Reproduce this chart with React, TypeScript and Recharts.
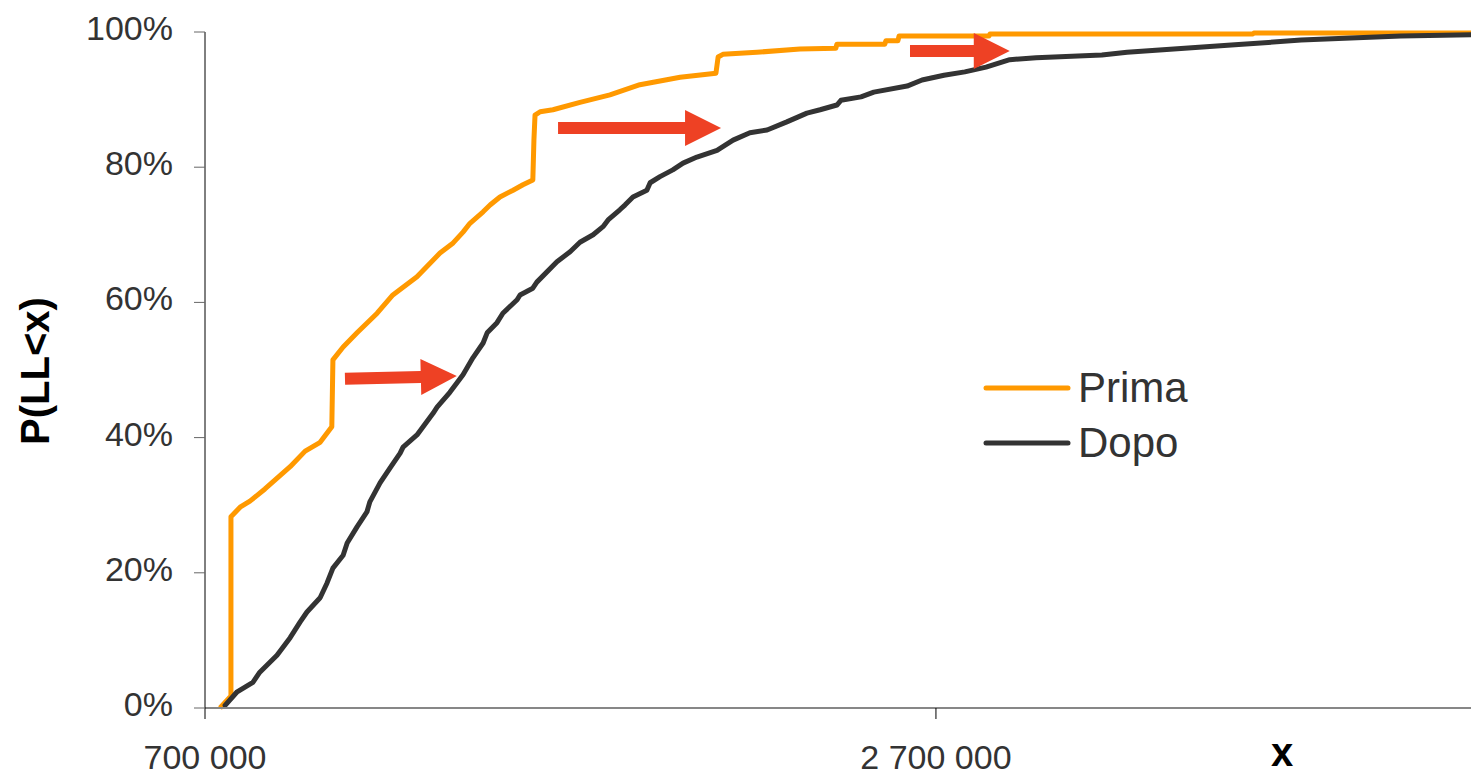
import React from 'react';
import { LineChart, Line, XAxis, YAxis, Legend, ReferenceLine } from 'recharts';

// [x, P(LL<x) in %]
const primaPoints = [
  [741000, 0], [768000, 1.6], [771000, 1.6], [771000, 28.3], [796000, 29.7], [823000, 30.6],
  [864000, 32.4], [933000, 35.7], [974000, 38.0], [1015000, 39.3], [1047000, 41.6], [1050000, 51.5],
  [1078000, 53.4], [1116000, 55.5], [1171000, 58.4], [1214000, 61.1], [1280000, 63.8], [1343000, 67.3],
  [1379000, 68.8], [1406000, 70.4], [1425000, 71.7], [1461000, 73.4], [1480000, 74.4], [1507000, 75.6],
  [1543000, 76.6], [1570000, 77.4], [1597000, 78.1], [1600000, 84.0], [1603000, 87.7], [1617000, 88.2],
  [1652000, 88.5], [1726000, 89.6], [1808000, 90.7], [1890000, 92.2], [2000000, 93.3], [2098000, 93.9],
  [2104000, 96.3], [2117000, 96.7], [2210000, 97.0], [2328000, 97.5], [2426000, 97.6], [2429000, 98.2],
  [2560000, 98.2], [2563000, 98.7], [2596000, 98.7], [2599000, 99.4], [2845000, 99.4], [2848000, 99.7],
  [3567000, 99.7], [3570000, 99.85], [4164000, 99.85],
];

const dopoPoints = [
  [755000, 0.4], [788000, 2.4], [831000, 3.8], [850000, 5.3], [897000, 7.8], [933000, 10.4],
  [960000, 12.7], [979000, 14.2], [1015000, 16.3], [1034000, 18.5], [1050000, 20.7], [1078000, 22.6],
  [1089000, 24.4], [1116000, 26.8], [1143000, 29.0], [1151000, 30.5], [1179000, 33.3], [1206000, 35.5],
  [1234000, 37.7], [1242000, 38.6], [1280000, 40.4], [1324000, 43.6], [1335000, 44.5], [1370000, 46.7],
  [1406000, 49.3], [1433000, 51.8], [1461000, 54.0], [1472000, 55.5], [1499000, 57.0], [1515000, 58.4],
  [1554000, 60.4], [1562000, 61.1], [1597000, 62.1], [1608000, 63.0], [1663000, 66.0], [1699000, 67.5],
  [1726000, 68.9], [1762000, 70.0], [1789000, 71.2], [1803000, 72.2], [1835000, 73.7], [1849000, 74.4],
  [1871000, 75.6], [1909000, 76.6], [1918000, 77.7], [1945000, 78.6], [1980000, 79.6], [2008000, 80.6],
  [2046000, 81.5], [2101000, 82.5], [2145000, 84.0], [2191000, 85.1], [2238000, 85.5], [2292000, 86.7],
  [2347000, 88.0], [2383000, 88.5], [2429000, 89.2], [2440000, 89.9], [2495000, 90.4], [2530000, 91.1],
  [2621000, 92.0], [2662000, 92.9], [2722000, 93.6], [2779000, 94.1], [2837000, 94.8], [2902000, 95.9],
  [2974000, 96.2], [3154000, 96.6], [3223000, 97.0], [3518000, 98.1], [3699000, 98.8], [3972000, 99.4],
  [4164000, 99.6],
];

// arrows: from [x, y] to [x, y]
const arrows = [
  [[1083000, 48.7], [1389000, 49.1]],
  [[1666000, 85.8], [2112000, 85.8]],
  [[2629000, 97.2], [2902000, 97.2]],
];

const xTicks = [700000, 2700000];
const yTicks = [0, 20, 40, 60, 80, 100];
const xDomain = [700000, 4164000];

const seriesNames = ['Prima', 'Dopo'];
const seriesColors = ['#FF9900', '#333333'];

const FONT = '"Liberation Sans", Arial, sans-serif';

const toRows = (pts: number[][]) => pts.map(([x, y]) => ({ x, y }));
const fmtX = (v: number) => String(v).replace(/\B(?=(\d{3})+(?!\d))/g, ' ');

const XTick = (props: any) => {
  const { x, y, payload } = props;
  return (
    <text x={x} y={y + 22} textAnchor="middle" fontSize={34} fontFamily={FONT} fill="#333">
      {fmtX(payload.value)}
    </text>
  );
};

const YTick = (props: any) => {
  const { x, y, payload } = props;
  return (
    <text x={x} y={y + 8} textAnchor="end" fontSize={34} fontFamily={FONT} fill="#333">
      {payload.value + '%'}
    </text>
  );
};

const Arrow = (props: any) => {
  const { x1, y1, x2, y2 } = props;
  if ([x1, y1, x2, y2].some((v) => typeof v !== 'number' || isNaN(v))) return null;
  const dx = x2 - x1;
  const dy = y2 - y1;
  const len = Math.hypot(dx, dy) || 1;
  const ux = dx / len, uy = dy / len;
  const nx = -uy, ny = ux;
  const head = 36, halfHead = 18, halfShaft = 6;
  const bx = x2 - ux * head, by = y2 - uy * head;
  const pts = [
    [x1 + nx * halfShaft, y1 + ny * halfShaft],
    [bx + nx * halfShaft, by + ny * halfShaft],
    [bx + nx * halfHead, by + ny * halfHead],
    [x2, y2],
    [bx - nx * halfHead, by - ny * halfHead],
    [bx - nx * halfShaft, by - ny * halfShaft],
    [x1 - nx * halfShaft, y1 - ny * halfShaft],
  ];
  return <polygon points={pts.map((p) => p.join(',')).join(' ')} fill="#EE4124" />;
};

const LegendBox = () => (
  <svg width={260} height={120}>
    {seriesNames.map((name, i) => (
      <g key={name}>
        <line x1={26} x2={108} y1={38 + i * 55} y2={38 + i * 55} stroke={seriesColors[i]} strokeWidth={5} strokeLinecap="round" />
        <text x={118} y={52 + i * 55} fontSize={42} fontFamily={FONT} fill="#333">{name}</text>
      </g>
    ))}
  </svg>
);

export default function App() {
  return (
    <div style={{ position: 'absolute', left: 0, top: 0, background: '#fff' }}>
      <LineChart width={1471} height={773} margin={{ top: 32, right: 0, bottom: 0, left: 0 }}>
        <XAxis
          type="number"
          dataKey="x"
          domain={xDomain}
          ticks={xTicks}
          allowDataOverflow
          height={65}
          tickSize={11}
          tickMargin={28}
          tick={<XTick />}
          axisLine={{ stroke: '#878787', strokeWidth: 2 }}
          tickLine={{ stroke: '#000', strokeWidth: 1 }}
          label={{
            content: () => (
              <text x={1282} y={766} textAnchor="middle" fontSize={40} fontWeight="bold" fontFamily={FONT} fill="#000">x</text>
            ),
          }}
        />
        <YAxis
          type="number"
          domain={[0, 100]}
          ticks={yTicks}
          width={205}
          tickSize={11}
          tickMargin={21}
          tick={<YTick />}
          axisLine={{ stroke: '#000', strokeWidth: 1 }}
          tickLine={{ stroke: '#666', strokeWidth: 1 }}
          label={{
            content: () => (
              <text x={49} y={371} transform="rotate(-90 49 371)" textAnchor="middle" fontSize={40} fontWeight="bold" fontFamily={FONT} fill="#000">P(LL&lt;x)</text>
            ),
          }}
        />
        <Line
          data={toRows(primaPoints)}
          dataKey="y"
          name={seriesNames[0]}
          type="linear"
          stroke={seriesColors[0]}
          strokeWidth={5}
          strokeLinejoin="round"
          dot={false}
          activeDot={false}
          isAnimationActive={false}
        />
        <Line
          data={toRows(dopoPoints)}
          dataKey="y"
          name={seriesNames[1]}
          type="linear"
          stroke={seriesColors[1]}
          strokeWidth={5}
          strokeLinejoin="round"
          strokeLinecap="round"
          dot={false}
          activeDot={false}
          isAnimationActive={false}
        />
        {arrows.map(([a, b], i) => (
          <ReferenceLine
            key={i}
            segment={[{ x: a[0], y: a[1] }, { x: b[0], y: b[1] }]}
            shape={(p: any) => <Arrow {...p} />}
            ifOverflow="visible"
          />
        ))}
        <Legend
          layout="horizontal"
          verticalAlign="middle"
          align="center"
          content={() => <LegendBox />}
          wrapperStyle={{ left: 960, top: 350, width: 260, height: 120 }}
        />
      </LineChart>
    </div>
  );
}
